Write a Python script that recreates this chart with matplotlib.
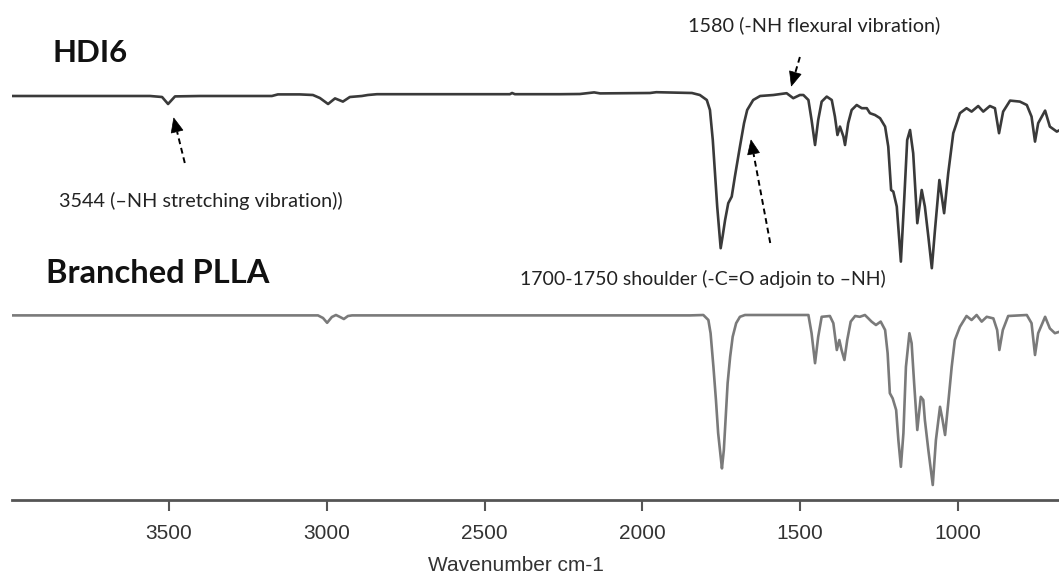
import matplotlib
matplotlib.use('Agg')
import matplotlib.pyplot as plt
from matplotlib.patches import Polygon
import numpy as np

# ---------------- data ----------------
series_names = ['HDI6', 'Branched PLLA']

hdi6_wavenumber = [3998, 3560, 3522, 3503, 3481, 3402, 3174, 3155, 3086, 3044, 3022, 2996, 2974,
                   2949, 2927, 2889, 2870, 2841, 2420, 2413, 2404, 2261, 2198, 2153, 2134, 1976,
                   1956, 1843, 1818, 1796, 1786, 1777, 1770, 1763, 1756, 1752, 1746, 1738, 1728,
                   1717, 1707, 1691, 1678, 1668, 1649, 1627, 1585, 1543, 1522, 1501, 1490, 1474,
                   1464, 1453, 1443, 1432, 1416, 1400, 1390, 1382, 1374, 1363, 1358, 1348, 1337,
                   1321, 1305, 1289, 1279, 1263, 1247, 1231, 1221, 1212, 1205, 1194, 1181, 1170,
                   1161, 1152, 1142, 1129, 1115, 1105, 1094, 1083, 1073, 1059, 1044, 1031, 1015,
                   994, 973, 957, 936, 920, 899, 883, 870, 857, 835, 804, 782, 767, 756, 746, 724,
                   709, 687, 677]
hdi6_transmittance = [97, 97, 96.5, 93, 96.8, 97, 97, 97.8, 97.8, 97.5, 96, 93, 95.8,
                      94.2, 96.5, 97, 97.5, 97.9, 97.9, 98.5, 97.9, 97.9, 98, 98.8, 98.3, 98.5,
                      98.9, 98.5, 97.5, 95, 90, 75, 58.4, 41.7, 28.4, 20.9, 26.7, 35, 43.4,
                      46.7, 56.7, 71.7, 83.4, 90, 95, 97, 97.5, 98.4, 95.9, 97.5, 97.5, 95,
                      85, 72.5, 85, 94.2, 96.7, 95, 86.7, 77.5, 81.7, 76.7, 72.5, 83.4, 90,
                      92.5, 90.9, 90.9, 88.4, 87.5, 85.9, 81.7, 71.7, 50, 49.2, 41.7, 14.2, 46.7,
                      75, 80, 68.4, 33.4, 50, 41.7, 26.7, 10.9, 30, 55, 38.4, 58.4, 78.4,
                      88.4, 90.9, 89.2, 92, 89.2, 92, 90.9, 78.4, 89.2, 94.7, 94.2, 92.5, 86.7, 74.2, 83.4, 89.7,
                      81.7, 79.2, 80]

plla_wavenumber = [3998, 3028, 3012, 2999, 2984, 2971, 2958, 2946, 2933, 2920, 1849, 1807, 1791,
                   1784, 1775, 1767, 1760, 1752, 1748, 1742, 1736, 1730, 1722, 1714, 1703, 1691,
                   1675, 1474, 1464, 1453, 1443, 1432, 1406, 1395, 1384, 1376, 1369, 1360, 1351,
                   1340, 1326, 1311, 1295, 1284, 1274, 1260, 1245, 1231, 1223, 1216, 1207, 1196,
                   1189, 1181, 1173, 1165, 1154, 1147, 1139, 1129, 1118, 1110, 1105, 1094, 1080,
                   1070, 1057, 1049, 1041, 1031, 1020, 1010, 994, 973, 957, 941, 925, 909, 888,
                   876, 869, 858, 841, 782, 767, 756, 746, 724, 709, 693, 677]
plla_transmittance = [97.3, 97.3, 96, 93.6, 96.5, 97.5, 96.5, 95.5, 97, 97.3, 97.3, 97.5, 95,
                      88.4, 71.6, 55, 38.4, 26.6, 20.8, 30, 46.6, 63.4, 76.6, 86.6, 93.4, 96.6,
                      97.5, 97.5, 88.4, 73.4, 86.6, 96.6, 97, 93.4, 80, 85, 80, 75, 85,
                      94.2, 97, 96.6, 97.5, 95.8, 94.2, 92.5, 94.2, 90, 78.4, 58.4, 55.8, 50,
                      35, 21.6, 38.4, 71.6, 88.4, 83.4, 63.4, 40, 56.6, 55, 45, 30, 12.5,
                      35, 51.6, 45, 37.5, 53.4, 71.6, 85, 91.6, 97, 95, 97.5, 94.2, 96.6, 95.8,
                      90, 80, 90, 97, 97.5, 93.4, 77.5, 88.4, 96.6, 90.8, 88.4, 89.2]

tick_values = [3500, 3000, 2500, 2000, 1500, 1000]
tick_labels = ['3500', '3000', '2500', '2000', '1500', '1000']
x_label = 'Wavenumber cm-1'

annotation_texts = ['3544 (\u2013NH stretching vibration))',
                    '1580 (-NH flexural vibration)',
                    '1700-1750 shoulder (-C=O adjoin to \u2013NH)']

# ---------------- figure ----------------
W, H = 1059, 574
fig = plt.figure(figsize=(W / 100, H / 100), dpi=100)
ax = fig.add_axes([12 / W, 74 / H, 1047 / W, 500 / H])

offset_hdi6, offset_plla, scale = 210, -10, 2.0
ax.plot(hdi6_wavenumber, [offset_hdi6 + scale * t for t in hdi6_transmittance],
        color='#3a3a3a', lw=1.9, solid_joinstyle='round')
ax.plot(plla_wavenumber, [offset_plla + scale * t for t in plla_transmittance],
        color='#7a7a7a', lw=1.9, solid_joinstyle='round')

ax.set_xlim(3997.5, 680)
ax.set_ylim(0, 500)
for s in ['top', 'left', 'right']:
    ax.spines[s].set_visible(False)
ax.spines['bottom'].set_color('#555555')
ax.spines['bottom'].set_linewidth(2.0)
ax.set_yticks([])
ax.set_xticks(tick_values, tick_labels)
ax.tick_params(axis='x', length=8, width=1.5, color='#555555', pad=9,
               labelsize=15, labelcolor='#333333')
for lab in ax.get_xticklabels():
    lab.set_fontfamily('Liberation Sans')
ax.set_xlabel(x_label, fontsize=15, family='Liberation Sans', color='#333333')
ax.xaxis.set_label_coords(0.4814, -0.142)
ax.xaxis.label.set_va('baseline')

# series titles
ax.text(3868, 438, series_names[0], family='Lato', fontweight='bold', fontsize=22.5,
        va='baseline', ha='left', color='#111111')
ax.text(3891, 217, series_names[1], family='Lato', fontweight='bold', fontsize=23.5,
        va='baseline', ha='left', color='#111111')

# annotation texts
ax.text(3849, 293, annotation_texts[0], family='Lato', fontsize=14.3, va='baseline', ha='left', color='#222222')
ax.text(1854, 469, annotation_texts[1], family='Lato', fontsize=14.3, va='baseline', ha='left', color='#222222')
ax.text(2389, 215, annotation_texts[2], family='Lato', fontsize=14, va='baseline', ha='left', color='#222222')

# dashed arrows (tip, tail in data coords)
arrows = [((3485, 382), (3450, 337)),
          ((1528, 414), (1501, 443)),
          ((1656, 360), (1595, 257))]
fig.canvas.draw()
inv = ax.transData.inverted()
for tip, tail in arrows:
    pt = ax.transData.transform(tip)
    pl = ax.transData.transform(tail)
    d = pt - pl
    d = d / np.hypot(*d)
    n = np.array([-d[1], d[0]])
    head_len, head_w = 14, 6
    base = pt - d * head_len
    ax.plot(*zip(tail, inv.transform(base)), color='black', lw=1.4, ls=(0, (3, 2)))
    tri = [pt, base + n * head_w, base - n * head_w]
    tri = inv.transform(np.array(tri))
    ax.add_patch(Polygon(tri, closed=True, facecolor='black', edgecolor='black', lw=0.5))

fig.savefig('out.png', dpi=100)
